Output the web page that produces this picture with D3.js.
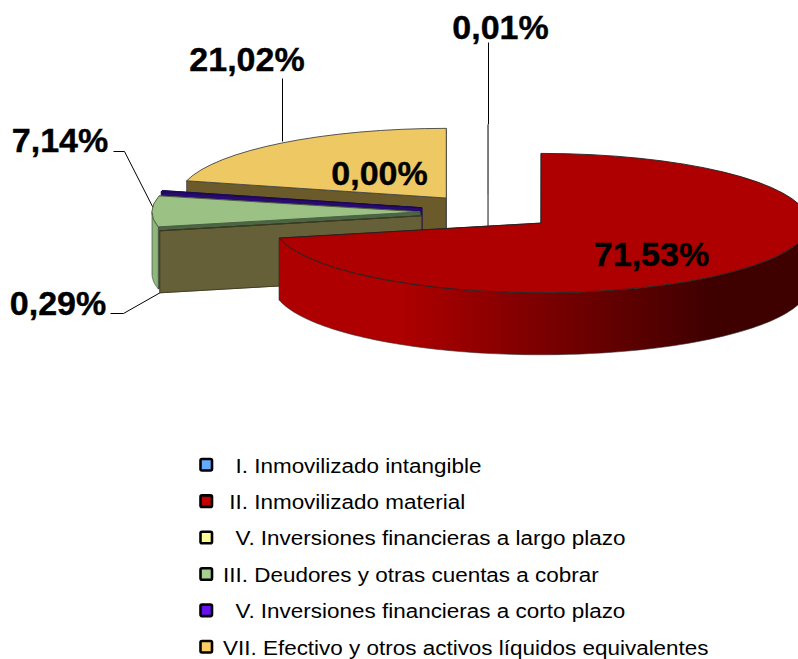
<!DOCTYPE html>
<html>
<head>
<meta charset="utf-8">
<script src="https://cdn.jsdelivr.net/npm/d3@7/dist/d3.min.js"></script>
<style>
html,body{margin:0;padding:0;background:#fff}
svg{display:block}
text{font-family:"Liberation Sans",Arial,sans-serif;fill:#000}
</style>
</head>
<body>
<svg id="chart" width="798" height="659"></svg>
<script>
const categories = [
  "  I. Inmovilizado intangible",
  " II. Inmovilizado material",
  "  V. Inversiones financieras a largo plazo",
  "III. Deudores y otras cuentas a cobrar",
  "  V. Inversiones financieras a corto plazo",
  "VII. Efectivo y otros activos líquidos equivalentes"
];
const shares = [0.01, 71.53, 0.00, 7.14, 0.29, 21.02];
const legendColors = ["#66aaff", "#c00000", "#ffff99", "#a6d08f", "#6611ee", "#ffcc66"];
const topColors = ["#6d8fb8", "#ae0000", "#c8c878", "#9cc184", "#2d0a80", "#edc863"];
const wallColors = ["#777777", "#600000", "#666038", "#4b6645", "#2a0a70", "#6b5a2a"];
const edgeColors = ["#777777", "#222222", "#3a3a20", "#4a5a40", "#1a0a50", "#444444"];

// layout of the tilted, exploded pie
const W = 798, H = 659;
const cx = 488, cy = 212, R = 268, tilt = 0.26, depth = 62, explode = 68;
const labelAnchors = [[500.5, 39], [651.5, 266], [379.5, 185], [60, 152], [58, 315], [247, 71]];
const leaders = [
  [[488, 42], [488, 124]],
  null,
  null,
  [[113, 151], [124, 151], [153, 208]],
  [[110, 313], [123, 313], [160, 292]],
  [[282, 78], [282, 141]]
];

const svg = d3.select("#chart");
const defs = svg.append("defs");
const grad = defs.append("linearGradient").attr("id", "redSide")
  .attr("gradientUnits", "userSpaceOnUse")
  .attr("x1", 400).attr("x2", 712).attr("y1", 0).attr("y2", 0);
grad.append("stop").attr("offset", 0).attr("stop-color", "#ae0000");
grad.append("stop").attr("offset", 1).attr("stop-color", "#3f0000");

const pctFormat = d3.formatLocale({decimal: ",", thousands: ".", grouping: [3], currency: ["", "%"]}).format(".2f");
const pie = d3.pie().sort(null).value(d => d);
const arcs = pie(shares);
const sliceArc = d3.arc().innerRadius(0).outerRadius(R);
const curve = d3.line();

const wedges = arcs.map((a, i) => {
  const mid = (a.startAngle + a.endAngle) / 2;
  return {
    i, a,
    x: cx + explode * Math.sin(mid),
    y: cy - explode * tilt * Math.cos(mid)
  };
});
const rim = (w, t, dy = 0) => [w.x + R * Math.sin(t), w.y - R * tilt * Math.cos(t) + dy];

// leader lines sit behind the pie
const leaderGen = d3.line();
const leaderG = svg.append("g").attr("transform", "translate(0.5,0.5)");
leaders.forEach(pts => {
  if (pts) leaderG.append("path").attr("d", leaderGen(pts)).attr("fill", "none").attr("stroke", "#000").attr("stroke-width", 1);
});

// painter's order: back slices first
const order = [5, 0, 4, 3, 2, 1];
const pieG = svg.append("g");
order.forEach(idx => {
  const w = wedges[idx], g = pieG.append("g");
  const top = [w.x, w.y];
  [w.a.startAngle, w.a.endAngle].forEach(t => {
    const p = rim(w, t);
    g.append("path")
      .attr("d", curve([top, p, [p[0], p[1] + depth], [top[0], top[1] + depth]]) + "Z")
      .attr("fill", wallColors[idx]).attr("stroke", edgeColors[idx]).attr("stroke-width", 0.75);
  });
  const lo = Math.max(w.a.startAngle, Math.PI / 2), hi = Math.min(w.a.endAngle, 3 * Math.PI / 2);
  if (hi > lo) {
    const ts = d3.range(0, 121).map(k => lo + (hi - lo) * k / 120);
    const pts = ts.map(t => rim(w, t)).concat(ts.slice().reverse().map(t => rim(w, t, depth)));
    g.append("path").attr("d", curve(pts) + "Z")
      .attr("fill", idx === 1 ? "url(#redSide)" : "#8fb77c")
      .attr("stroke", "#333").attr("stroke-width", 0.6);
  }
  g.append("path")
    .attr("d", sliceArc(w.a))
    .attr("transform", `translate(${w.x},${w.y}) scale(1,${tilt})`)
    .attr("fill", topColors[idx])
    .attr("stroke", edgeColors[idx])
    .attr("stroke-width", 0.9)
    .attr("vector-effect", "non-scaling-stroke");
});

// percentage labels
svg.append("g").selectAll("text").data(shares).join("text")
  .attr("x", (d, i) => labelAnchors[i][0])
  .attr("y", (d, i) => labelAnchors[i][1])
  .attr("text-anchor", "middle")
  .attr("font-size", 34)
  .attr("font-weight", "bold")
  .attr("stroke", "#000")
  .attr("stroke-width", 0.4)
  .text(d => pctFormat(d) + "%");

// legend
const rowY = d3.scalePoint().domain(d3.range(categories.length)).range([465, 647]);
const legend = svg.append("g").selectAll("g").data(categories).join("g")
  .attr("transform", (d, i) => `translate(0,${rowY(i)})`);
legend.append("rect")
  .attr("x", 200.5).attr("y", -6).attr("width", 11.5).attr("height", 11.5).attr("rx", 1.5)
  .attr("fill", (d, i) => legendColors[i]).attr("stroke", "#000").attr("stroke-width", 2.6);
legend.append("text")
  .attr("transform", "translate(223,7.5) scale(1.07,1)")
  .attr("font-size", 21)
  .style("white-space", "pre")
  .text(d => d);
</script>
</body>
</html>
